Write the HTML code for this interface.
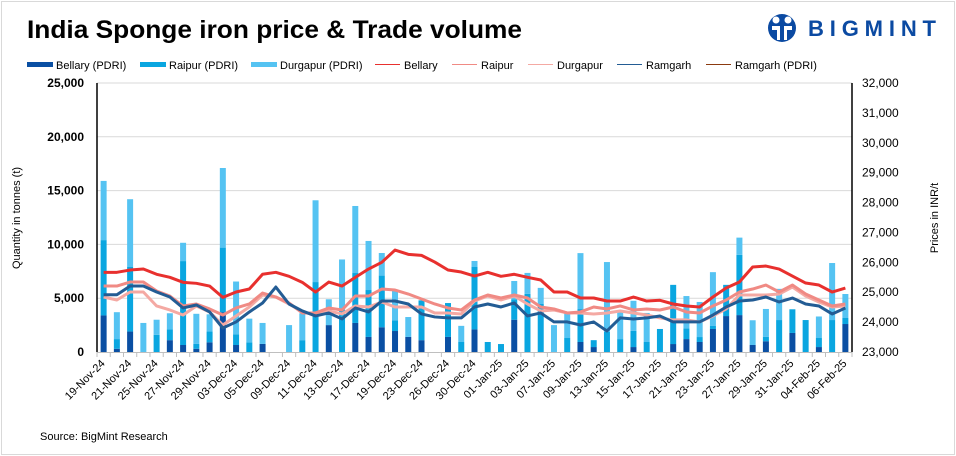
<!DOCTYPE html>
<html><head><meta charset="utf-8"><style>
body{margin:0;background:#fff;}
#wrap{position:relative;width:956px;height:456px;overflow:hidden;font-family:"Liberation Sans",sans-serif;}
svg text{font-family:"Liberation Sans",sans-serif;}
</style></head><body>
<div id="wrap">
<svg id="chart" width="956" height="456">
<rect x="1.5" y="1.5" width="953" height="453" fill="none" stroke="#d9d9d9" stroke-width="1"/>
<text x="27" y="38" font-size="25" font-weight="bold" fill="#000" textLength="495" lengthAdjust="spacingAndGlyphs">India Sponge iron price &amp; Trade volume</text>
<g>
<circle cx="782" cy="28" r="14" fill="#0b4aa2"/>
<circle cx="776" cy="20" r="3.5" fill="#fff"/><circle cx="788" cy="20" r="3.5" fill="#fff"/>
<path d="M772 26 h8 v14 h-3 v-10 h-5z M784 26 h8 v4 h-5 v10 h-3z" fill="#fff"/>
<text x="808" y="36" font-size="22" font-weight="bold" fill="#0b4aa2" textLength="128" lengthAdjust="spacing">BIGMINT</text>
</g>
<g id="legend"></g>
<g id="grid"></g><g id="bars"></g><g id="lines"></g><g id="axes"></g>
<text x="40" y="440" font-size="11" fill="#000">Source: BigMint Research</text>
</svg>
</div>
<script>
const categories=["19-Nov-24","20-Nov-24","21-Nov-24","22-Nov-24","25-Nov-24","26-Nov-24","27-Nov-24","28-Nov-24","29-Nov-24","02-Dec-24","03-Dec-24","04-Dec-24","05-Dec-24","06-Dec-24","09-Dec-24","10-Dec-24","11-Dec-24","12-Dec-24","13-Dec-24","16-Dec-24","17-Dec-24","18-Dec-24","19-Dec-24","20-Dec-24","23-Dec-24","24-Dec-24","26-Dec-24","27-Dec-24","30-Dec-24","31-Dec-24","01-Jan-25","02-Jan-25","03-Jan-25","06-Jan-25","07-Jan-25","08-Jan-25","09-Jan-25","10-Jan-25","13-Jan-25","14-Jan-25","15-Jan-25","16-Jan-25","17-Jan-25","20-Jan-25","21-Jan-25","22-Jan-25","23-Jan-25","24-Jan-25","27-Jan-25","28-Jan-25","29-Jan-25","30-Jan-25","31-Jan-25","03-Feb-25","04-Feb-25","05-Feb-25","06-Feb-25"];
const bellaryPdri=[3400,300,1900,0,0,1100,650,300,900,3700,650,0,750,0,0,0,0,2500,0,2700,1400,2300,1950,1400,1100,0,1400,0,2100,0,0,3000,0,0,0,0,930,460,0,0,460,0,0,740,1200,930,2140,3340,3430,650,1000,0,1770,0,460,0,2600];
const raipurPdri=[7000,900,6000,0,1600,1000,7800,450,1000,6000,1000,900,0,0,0,1100,6500,0,3900,4640,4360,4800,1000,0,3700,0,3150,930,5800,930,740,1900,5400,4460,0,1300,3060,640,1860,1200,1500,930,2140,5500,1000,460,280,2900,5600,0,400,2970,2200,2970,840,2970,560];
const durgapurPdri=[5500,2500,6300,2700,1400,1500,1700,2800,1600,7400,4900,2200,1950,0,2500,2500,7600,2400,4700,6230,4560,2100,2800,1850,0,0,0,1500,560,0,0,1700,1950,1500,2500,2400,5200,0,6500,2700,2800,2700,0,0,3000,3260,5000,0,1600,2300,2600,2900,0,0,2000,5300,2230];
const bellaryPrice=[25666,25666,25743,25776,25600,25498,25331,25298,25207,24829,25007,25107,25600,25666,25532,25331,25007,25341,25207,25498,25776,26000,26411,26267,26233,26010,25743,25676,25542,25666,25532,25600,25498,25408,25007,25007,24806,24806,24706,24706,24840,24706,24730,24606,24540,24506,24840,25140,25341,25843,25876,25776,25542,25308,25241,25007,25140];
const raipurPrice=[25207,25207,25341,25341,25040,24873,24540,24606,24440,24237,24473,24606,24973,24840,24640,24306,24306,24473,24406,24873,24873,25107,25074,24940,24773,24606,24473,24406,24740,24907,24806,24907,24806,24506,24440,24306,24340,24506,24440,24540,24406,24440,24406,24506,24340,24306,24540,24740,25007,25107,25241,25007,25241,24940,24740,24540,24606];
const durgapurPrice=[24840,24740,25007,25007,24540,24406,24237,24540,24340,23903,24206,24506,24907,24840,24606,24340,24237,24373,24273,24540,24506,24673,24506,24506,24506,24306,24306,24273,24706,24873,24740,24873,24606,24373,24406,24306,24306,24273,24306,24373,24306,24237,24140,24073,24073,24006,24206,24440,24907,24907,24907,24940,25174,24873,24673,24506,24540];
const ramgarhPrice=[24916,24916,25207,25207,25007,24840,24473,24573,24340,23803,24006,24340,24640,25174,24606,24373,24206,24306,24106,24473,24340,24706,24706,24606,24273,24173,24140,24140,24506,24606,24506,24640,24206,24306,24006,24006,23903,24006,23703,24140,24106,24140,24206,24006,24006,24006,24237,24506,24706,24740,24840,24673,24806,24606,24540,24273,24473];
const leftTicks=[0,5000,10000,15000,20000,25000];
const rightTicks=[23000,24000,25000,26000,27000,28000,29000,30000,31000,32000];

const NS="http://www.w3.org/2000/svg";
const X0=97,X1=852,Y0=352,Y1=83;
const n=categories.length, step=(X1-X0)/n;
function xc(i){return X0+step*(i+0.5);}
function yL(v){return Y0-(v/25000)*(Y0-Y1);}
function yR(v){return Y0-((v-23000)/9000)*(Y0-Y1);}
function mk(tag,attrs,parent){const e=document.createElementNS(NS,tag);for(const k in attrs)e.setAttribute(k,attrs[k]);parent.appendChild(e);return e;}
const G=document.getElementById('grid'),B=document.getElementById('bars'),L=document.getElementById('lines'),A=document.getElementById('axes'),LG=document.getElementById('legend');

leftTicks.forEach(v=>{
  if(v>0){const g=mk('line',{x1:X0,x2:X1,y1:yL(v),y2:yL(v),stroke:'#d9d9d9','stroke-width':1},G);
  
  }
  const t=mk('text',{x:84,y:yL(v)+4,'text-anchor':'end','font-size':12,'font-weight':'bold',fill:'#000'},A);t.textContent=v.toLocaleString('en-US');
  
  
});
rightTicks.forEach(v=>{
  const t=mk('text',{x:862,y:yR(v)+4,'font-size':12,fill:'#000'},A);t.textContent=v.toLocaleString('en-US');
  
  
});
const cols=['#0a4fa3','#0aa6e0','#55c3f2'];
for(let i=0;i<n;i++){
  let base=0;
  [bellaryPdri[i],raipurPdri[i],durgapurPdri[i]].forEach((v,k)=>{
    if(v>0){const r=mk('rect',{x:xc(i)-3,y:yL(base+v),width:6,height:yL(base)-yL(base+v),fill:cols[k]},B);
    
    }
    base+=v;
  });
}
function line(arr,color,w,name){
  const p=mk('polyline',{points:arr.map((v,i)=>xc(i)+','+yR(v)).join(' '),fill:'none',stroke:color,'stroke-width':w,'stroke-linejoin':'round'},L);
  
  
}
line(durgapurPrice,'#f4a9a3',3,'line-durgapur');
line(raipurPrice,'#f08a84',3,'line-raipur');
line(ramgarhPrice,'#235c94',3,'line-ramgarh');
line(bellaryPrice,'#e8302e',3,'line-bellary');

mk('line',{x1:X0,x2:X0,y1:Y1,y2:Y0,stroke:'#000','stroke-width':1.5},A);
mk('line',{x1:X1,x2:X1,y1:Y1,y2:Y0,stroke:'#000','stroke-width':1.5},A);
mk('line',{x1:X0,x2:X1,y1:Y0+0.5,y2:Y0+0.5,stroke:'#bfbfbf','stroke-width':1},A);
for(let i=0;i<=n;i++){mk('line',{x1:X0+step*i,x2:X0+step*i,y1:Y0,y2:Y0+5,stroke:'#bfbfbf'},A);}
for(let i=0;i<n;i+=2){
  const t=mk('text',{x:xc(i)+2,y:Y0+12,'text-anchor':'end','font-size':11,fill:'#000',transform:`rotate(-45 ${xc(i)+2} ${Y0+12})`},A);
  t.textContent=categories[i];
  
  
}
const yt=mk('text',{x:0,y:0,'font-size':11,'text-anchor':'middle',transform:'translate(20 218) rotate(-90)'},A);yt.textContent='Quantity in tonnes (t)';


const yt2=mk('text',{x:0,y:0,'font-size':11,'text-anchor':'middle',transform:'translate(938 218) rotate(-90)'},A);yt2.textContent='Prices in INR/t';



const legendItems=[['Bellary (PDRI)','#0a4fa3','bar',27],['Raipur (PDRI)','#0aa6e0','bar',140],['Durgapur (PDRI)','#55c3f2','bar',251],['Bellary','#e8302e','line',375],['Raipur','#f08a84','line',452],['Durgapur','#f4a9a3','line',528],['Ramgarh','#235c94','line',617],['Ramgarh (PDRI)','#8b3a0f','line',706]];
legendItems.forEach(([lab,c,type,x])=>{
  const g=mk('g',{},LG);
  
  
  if(type==='bar')mk('rect',{x:x,y:62,width:26,height:5,fill:c},g);
  else mk('line',{x1:x,x2:x+25,y1:64.5,y2:64.5,stroke:c,'stroke-width':1},g);
  const t=mk('text',{x:x+29,y:69,'font-size':11,fill:'#000'},g);t.textContent=lab;
});
</script>
</body></html>
